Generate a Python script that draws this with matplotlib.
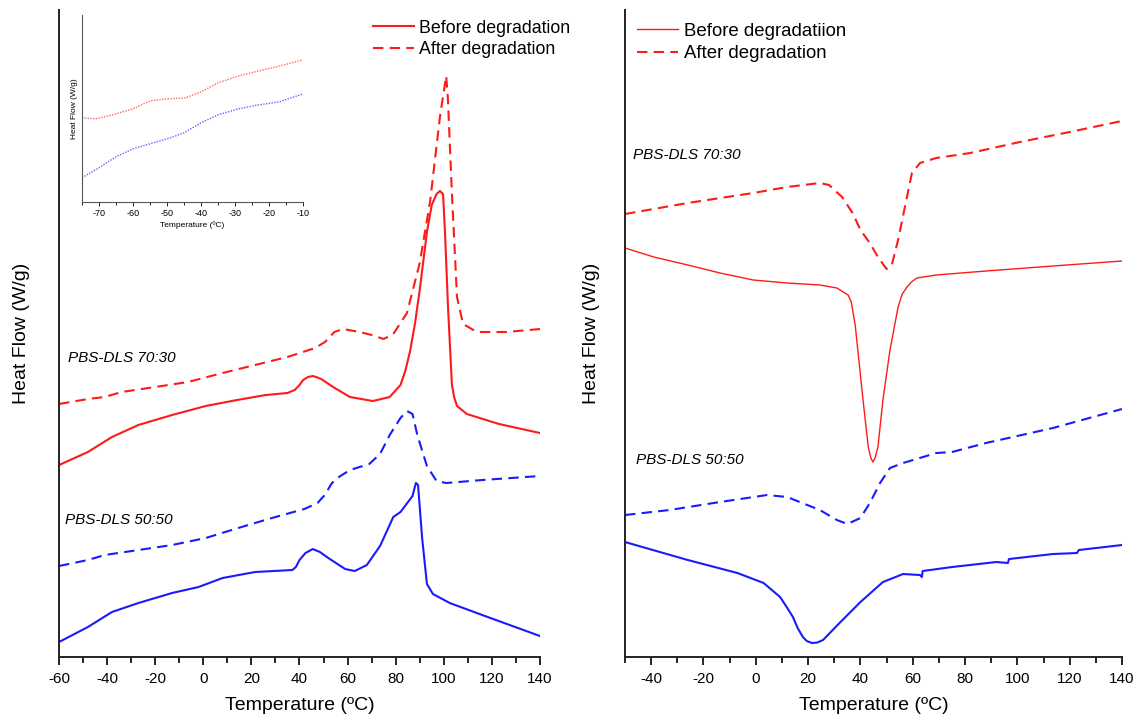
import matplotlib
matplotlib.use('Agg')
import matplotlib.pyplot as plt
from matplotlib.ticker import MultipleLocator

# ---- left panel (heating scan) ----
t_l_red_before = [-60, -48, -38, -27, -13, 1, 14, 26, 35, 38, 40, 41.5, 43.5, 45.5, 47, 49, 54, 61, 70.5,
                  77.5, 82, 84, 86, 88, 90, 93, 95, 97, 98.4, 99.7, 100.5, 101.8, 103.4, 104.3, 105.5,
                  109.6, 123, 140]
hf_l_red_before = [1.92, 2.05, 2.20, 2.32, 2.42, 2.51, 2.57, 2.62, 2.64, 2.67, 2.72, 2.77, 2.80, 2.81,
                   2.80, 2.78, 2.70, 2.60, 2.56, 2.60, 2.72, 2.86, 3.06, 3.33, 3.67, 4.25, 4.52, 4.63,
                   4.66, 4.63, 4.25, 3.48, 2.72, 2.60, 2.51, 2.43, 2.33, 2.24]

t_l_red_after = [-60, -48, -41, -34, -20, -6.4, 8, 21.5, 35, 46.5, 50.6, 54.5, 58, 65, 70, 75, 79, 84.7,
                 90, 94.3, 98.4, 101, 101.7, 103.4, 105.5, 108, 113.8, 126, 140]
hf_l_red_after = [2.53, 2.58, 2.60, 2.65, 2.70, 2.75, 2.84, 2.92, 3.00, 3.09, 3.15, 3.25, 3.28, 3.25, 3.22,
                  3.18, 3.23, 3.44, 3.94, 4.55, 5.40, 5.81, 5.59, 4.63, 3.60, 3.33, 3.25, 3.25, 3.28]

t_l_blue_before = [-60, -48, -38, -27, -13, -2, 8, 21.5, 37, 38.5, 40, 42.5, 45.5, 48.5, 52, 59, 63, 68,
                   73.5, 79, 82, 87, 88.4, 89.3, 91, 93, 95.5, 102.5, 116, 140]
hf_l_blue_before = [0.15, 0.30, 0.45, 0.54, 0.64, 0.70, 0.79, 0.85, 0.87, 0.90, 0.97, 1.04, 1.08, 1.05,
                    0.99, 0.88, 0.86, 0.92, 1.11, 1.40, 1.45, 1.61, 1.74, 1.72, 1.19, 0.73, 0.63, 0.54,
                    0.42, 0.21]

t_l_blue_after = [-60, -48, -41, -27, -13, 1, 14.5, 28.5, 42, 47.5, 50.5, 53.5, 57, 61, 69, 73.5, 77.5,
                  82, 84.7, 87, 89, 93, 97, 101, 116, 140]
hf_l_blue_after = [0.91, 0.97, 1.02, 1.07, 1.12, 1.19, 1.29, 1.39, 1.48, 1.54, 1.62, 1.74, 1.81, 1.87,
                   1.93, 2.03, 2.22, 2.39, 2.46, 2.43, 2.22, 1.91, 1.76, 1.74, 1.77, 1.81]

# ---- inset (glass transition region) ----
t_in_red = [-75, -71, -66, -60, -55, -50, -44.6, -40, -35, -29, -23, -18, -10]
hf_in_red = [0.84, 0.83, 0.87, 0.93, 1.01, 1.03, 1.04, 1.10, 1.19, 1.26, 1.31, 1.35, 1.42]
t_in_blue = [-75, -70, -65, -60, -54, -49, -45, -40, -35, -29, -23, -17, -10]
hf_in_blue = [0.24, 0.34, 0.45, 0.53, 0.59, 0.64, 0.69, 0.79, 0.87, 0.93, 0.97, 1.00, 1.08]

# ---- right panel (cooling scan) ----
t_r_red_before = [-50, -39, -26, -13.7, -1, 12, 24.5, 31, 35.3, 36.5, 38, 39, 41, 43, 44, 44.8, 45.6,
                  46.7, 48.6, 51.3, 54.4, 56, 57.8, 59.5, 61.6, 69, 88, 113.6, 140]
hf_r_red_before = [4.09, 4.00, 3.92, 3.84, 3.77, 3.74, 3.72, 3.69, 3.62, 3.55, 3.32, 3.07, 2.57, 2.10,
                   1.99, 1.95, 1.99, 2.10, 2.57, 3.07, 3.50, 3.63, 3.70, 3.75, 3.79, 3.82, 3.86, 3.91, 3.96]

t_r_red_after = [-50, -26, -1, 12, 24.5, 28, 33, 37, 40, 43.6, 46.7, 50, 52, 54.4, 57, 59.7, 62.8, 69,
                 82, 101, 120, 140]
hf_r_red_after = [4.43, 4.54, 4.64, 4.70, 4.74, 4.72, 4.60, 4.44, 4.27, 4.14, 4.00, 3.88, 3.92, 4.17,
                  4.50, 4.84, 4.94, 4.99, 5.04, 5.15, 5.25, 5.36]

t_r_blue_before = [-50, -26, -7, 3, 9.3, 11.8, 14.2, 16, 18, 19.5, 21.5, 23.5, 25.7, 32, 40, 48.6, 56.3,
                   62.8, 63.5, 63.8, 75, 92, 96.4, 96.8, 113.6, 122.8, 123.5, 140]
hf_r_blue_before = [1.15, 0.97, 0.84, 0.74, 0.60, 0.50, 0.40, 0.29, 0.20, 0.16, 0.14, 0.145, 0.17, 0.34,
                    0.55, 0.75, 0.83, 0.82, 0.80, 0.86, 0.90, 0.95, 0.94, 0.98, 1.03, 1.04, 1.07, 1.12]

t_r_blue_after = [-50, -33, -13.7, 4.3, 12, 24.5, 31, 35, 40, 43.6, 47.5, 51.3, 56.3, 69, 75, 88, 113.6, 140]
hf_r_blue_after = [1.42, 1.47, 1.55, 1.62, 1.60, 1.47, 1.37, 1.33, 1.39, 1.54, 1.74, 1.89, 1.94, 2.04,
                   2.05, 2.14, 2.29, 2.48]

RED = '#ff1a1a'
BLUE = '#1a1aff'
DASH = (0, (5, 3))


def style_main(ax, xmin, xmax, ticks, ypad):
    ax.set_xlim(xmin, xmax)
    ax.set_ylim(0, 6.47)
    ax.set_xticks(ticks)
    ax.xaxis.set_minor_locator(MultipleLocator(10))
    ax.set_yticks([])
    for s in ['top', 'right']:
        ax.spines[s].set_visible(False)
    for s in ['left', 'bottom']:
        ax.spines[s].set_linewidth(1.4)
        ax.spines[s].set_color('#222222')
    ax.tick_params(axis='x', which='major', direction='out', length=6, width=1.2, labelsize=11, pad=5)
    ax.tick_params(axis='x', which='minor', direction='out', length=4, width=1.2)
    ax.set_xlabel('Temperature (ºC)', fontsize=14, labelpad=8)
    ax.set_ylabel('Heat Flow (W/g)', fontsize=14, labelpad=ypad)


def main():
    plt.rcParams['font.family'] = ['Liberation Sans', 'DejaVu Sans']
    plt.rcParams['axes.unicode_minus'] = False
    fig = plt.figure(figsize=(11.37, 7.19), dpi=100)

    # left panel
    ax1 = fig.add_axes([0.0519, 0.0862, 0.4230, 0.8999])
    ax1.plot(t_l_red_before, hf_l_red_before, color=RED, lw=1.5, label='Before degradation')
    ax1.plot(t_l_red_after, hf_l_red_after, color=RED, lw=1.5, ls=DASH, label='After degradation')
    ax1.plot(t_l_blue_before, hf_l_blue_before, color=BLUE, lw=1.5)
    ax1.plot(t_l_blue_after, hf_l_blue_after, color=BLUE, lw=1.5, ls=DASH)
    style_main(ax1, -60, 140, range(-60, 141, 20), 21)
    ax1.text(-56.3, 2.99, 'PBS-DLS 70:30', style='italic', fontsize=11, va='center')
    ax1.text(-57.5, 1.37, 'PBS-DLS 50:50', style='italic', fontsize=11, va='center')
    ax1.legend(loc='upper left', bbox_to_anchor=(0.634, 0.999), frameon=False, fontsize=12.8,
               handlelength=2.3, handletextpad=0.3, labelspacing=0.26, borderpad=0)

    # inset
    ax_in = fig.add_axes([0.0721, 0.7195, 0.1944, 0.2596])
    ax_in.plot(t_in_red, hf_in_red, color='#ff6666', lw=1.0, ls=(0, (1, 1)))
    ax_in.plot(t_in_blue, hf_in_blue, color='#6666ff', lw=1.0, ls=(0, (1, 1)))
    ax_in.set_xlim(-75, -10)
    ax_in.set_ylim(0, 1.87)
    ax_in.set_xticks(range(-70, -9, 10))
    ax_in.xaxis.set_minor_locator(MultipleLocator(5))
    ax_in.set_yticks([])
    for s in ['top', 'right']:
        ax_in.spines[s].set_visible(False)
    for s in ['left', 'bottom']:
        ax_in.spines[s].set_linewidth(0.8)
        ax_in.spines[s].set_color('#555555')
    ax_in.tick_params(axis='x', which='major', length=3, width=0.6, labelsize=6.5, pad=2)
    ax_in.tick_params(axis='x', which='minor', length=2, width=0.6)
    ax_in.set_xlabel('Temperature (ºC)', fontsize=6, labelpad=3)
    ax_in.set_ylabel('Heat Flow (W/g)', fontsize=6, labelpad=3)

    # right panel
    ax2 = fig.add_axes([0.5497, 0.0862, 0.4371, 0.8999])
    ax2.plot(t_r_red_before, hf_r_red_before, color=RED, lw=1.0, label='Before degradatiion')
    ax2.plot(t_r_red_after, hf_r_red_after, color=RED, lw=1.5, ls=DASH, label='After degradation')
    ax2.plot(t_r_blue_before, hf_r_blue_before, color=BLUE, lw=1.5)
    ax2.plot(t_r_blue_after, hf_r_blue_after, color=BLUE, lw=1.5, ls=DASH)
    style_main(ax2, -50, 140, range(-40, 141, 20), 18)
    ax2.text(-46.9, 5.02, 'PBS-DLS 70:30', style='italic', fontsize=11, va='center')
    ax2.text(-45.8, 1.97, 'PBS-DLS 50:50', style='italic', fontsize=11, va='center')
    ax2.legend(loc='upper left', bbox_to_anchor=(0.006, 0.995), frameon=False, fontsize=13.4,
               handlelength=2.2, handletextpad=0.3, labelspacing=0.3, borderpad=0)

    fig.savefig('out.png', dpi=100)


if __name__ == '__main__':
    main()
